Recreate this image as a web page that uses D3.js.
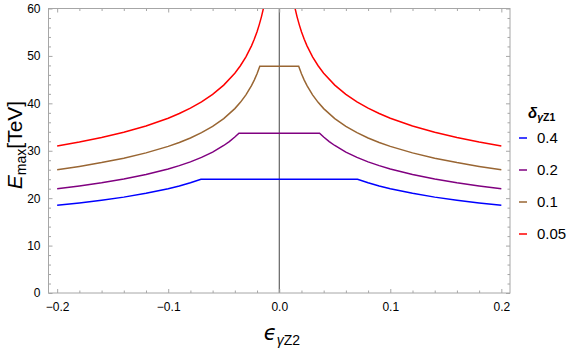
<!DOCTYPE html>
<html><head><meta charset="utf-8">
<script src="https://cdn.jsdelivr.net/npm/d3@7"></script>
<style>
body{margin:0;background:#fff;}
svg{display:block;font-family:"Liberation Sans",Arial,sans-serif;}
</style></head>
<body><svg id="c" width="575" height="348"></svg>
<script>
// ---- data ----
const seriesNames = ["0.4","0.2","0.1","0.05"];
const seriesColors = ["#0000ff","#800080","#996633","#ff0000"];

const epsBlue = [-0.2,-0.18,-0.16,-0.14,-0.12,-0.10,-0.09,-0.08,-0.0705,0.0705,0.08,0.09,0.10,0.12,0.14,0.16,0.18,0.2];
const eBlue   = [18.5,18.99,19.56,20.22,21.02,22.0,22.58,23.26,24.0,24.0,23.26,22.58,22.0,21.02,20.22,19.56,18.99,18.5];

const epsPurple = [-0.2,-0.18,-0.16,-0.14,-0.12,-0.10,-0.09,-0.08,-0.07,-0.06,-0.05,-0.045,-0.04,-0.0363,
                   0.0363,0.04,0.045,0.05,0.06,0.07,0.08,0.09,0.10,0.12,0.14,0.16,0.18,0.2];
const ePurple   = [22.0,22.58,23.26,24.05,24.99,26.16,26.86,27.66,28.60,29.72,31.11,31.94,32.89,33.7,
                   33.7,32.89,31.94,31.11,29.72,28.60,27.66,26.86,26.16,24.99,24.05,23.26,22.58,22.0];

const epsBrown = [-0.2,-0.18,-0.16,-0.14,-0.12,-0.10,-0.09,-0.08,-0.07,-0.06,-0.05,-0.04,-0.035,-0.03,-0.025,-0.0225,-0.02,-0.0175,
                  0.0175,0.02,0.0225,0.025,0.03,0.035,0.04,0.05,0.06,0.07,0.08,0.09,0.10,0.12,0.14,0.16,0.18,0.2];
const eBrown   = [26.0,26.70,27.50,28.43,29.55,30.92,31.75,32.70,33.81,35.14,36.77,38.89,40.21,41.79,43.73,44.90,46.24,47.8,
                  47.8,46.24,44.90,43.73,41.79,40.21,38.89,36.77,35.14,33.81,32.70,31.75,30.92,29.55,28.43,27.50,26.70,26.0];

const epsRed = [-0.2,-0.18,-0.16,-0.14,-0.12,-0.10,-0.09,-0.08,-0.07,-0.06,-0.05,-0.04,-0.035,-0.03,-0.025,-0.0225,-0.02,-0.018,-0.016,-0.014,-0.012,-0.01,-0.00875,
                0.00875,0.01,0.012,0.014,0.016,0.018,0.02,0.0225,0.025,0.03,0.035,0.04,0.05,0.06,0.07,0.08,0.09,0.10,0.12,0.14,0.16,0.18,0.2];
const eRed   = [31.0,31.83,32.78,33.89,35.22,36.86,37.85,38.98,40.30,41.88,43.84,46.35,47.93,49.81,52.13,53.52,55.12,56.60,58.29,60.27,62.63,65.55,67.8,
                67.8,65.55,62.63,60.27,58.29,56.60,55.12,53.52,52.13,49.81,47.93,46.35,43.84,41.88,40.30,38.98,37.85,36.86,35.22,33.89,32.78,31.83,31.0];

const xTicks = [-0.2,-0.1,0.0,0.1,0.2];
const xTickLabels = ["\u22120.2","\u22120.1","0.0","0.1","0.2"];
const xMinor = [-0.18,-0.16,-0.14,-0.12,-0.08,-0.06,-0.04,-0.02,0.02,0.04,0.06,0.08,0.12,0.14,0.16,0.18];
const yTicks = [0,10,20,30,40,50,60];
const yMinor = [2,4,6,8,12,14,16,18,22,24,26,28,32,34,36,38,42,44,46,48,52,54,56,58];

// ---- layout ----
const L = 48.5, R = 510, T = 8.5, B = 293;
const x = d3.scaleLinear().domain([-0.2078, 0.2078]).range([L, R]);
const y = d3.scaleLinear().domain([0, 60]).range([B, T]);

const svg = d3.select("#c");
svg.append("defs").append("clipPath").attr("id","clip")
  .append("rect").attr("x",L).attr("y",T).attr("width",R-L).attr("height",B-T);

const frameColor = "#a6a6a6";
const g = svg.append("g");

// vertical line at eps=0
g.append("line").attr("x1",x(0)).attr("x2",x(0)).attr("y1",T).attr("y2",B)
  .attr("stroke","#444").attr("stroke-width",1);

// series
const series = [[epsBlue,eBlue],[epsPurple,ePurple],[epsBrown,eBrown],[epsRed,eRed]];
const line = d3.line().x(d=>x(d[0])).y(d=>y(d[1]));
series.forEach((s,i)=>{
  const pts = s[0].map((e,j)=>[e,s[1][j]]);
  g.append("path").attr("d",line(pts)).attr("fill","none")
   .attr("stroke",seriesColors[i]).attr("stroke-width",1.5)
   .attr("clip-path","url(#clip)");
});

// frame
g.append("rect").attr("x",L).attr("y",T).attr("width",R-L).attr("height",B-T)
  .attr("fill","none").attr("stroke",frameColor).attr("stroke-width",1);

// axes with inward ticks
const fmt = (d)=> xTickLabels[xTicks.indexOf(d)];
const axB = d3.axisBottom(x).tickValues(xTicks).tickFormat(fmt).tickSizeInner(-4).tickSizeOuter(0).tickPadding(9);
const axT = d3.axisTop(x).tickValues(xTicks).tickFormat("").tickSizeInner(-4).tickSizeOuter(0);
const axL = d3.axisLeft(y).tickValues(yTicks).tickSizeInner(-4).tickSizeOuter(0).tickPadding(8);
const axR = d3.axisRight(y).tickValues(yTicks).tickFormat("").tickSizeInner(-4).tickSizeOuter(0);
const axBm = d3.axisBottom(x).tickValues(xMinor).tickFormat("").tickSizeInner(-2.5).tickSizeOuter(0);
const axTm = d3.axisTop(x).tickValues(xMinor).tickFormat("").tickSizeInner(-2.5).tickSizeOuter(0);
const axLm = d3.axisLeft(y).tickValues(yMinor).tickFormat("").tickSizeInner(-2.5).tickSizeOuter(0);
const axRm = d3.axisRight(y).tickValues(yMinor).tickFormat("").tickSizeInner(-2.5).tickSizeOuter(0);

function place(ax, tr){
  const a = svg.append("g").attr("transform",tr).call(ax);
  a.select(".domain").remove();
  a.selectAll("line").attr("stroke",frameColor);
  a.selectAll("text").attr("fill","#000").style("font-size","12px").style("font-family",'"Liberation Sans",Arial,sans-serif');
  return a;
}
place(axB,`translate(0,${B})`);
place(axT,`translate(0,${T})`);
place(axL,`translate(${L},0)`);
place(axR,`translate(${R},0)`);
place(axBm,`translate(0,${B})`);
place(axTm,`translate(0,${T})`);
place(axLm,`translate(${L},0)`);
place(axRm,`translate(${R},0)`);

// axis titles
const xt = svg.append("text").attr("x",282).attr("y",340).attr("text-anchor","middle").style("font-size","21px");
xt.append("tspan").text("\u03F5").style("font-family",'"DejaVu Sans",sans-serif').style("font-style","italic");
xt.append("tspan").attr("dy",5).style("font-size","14px").html('<tspan font-style="italic">\u03B3</tspan>Z2');

const yt = svg.append("text").attr("transform","translate(22,145) rotate(-90)").attr("text-anchor","middle").style("font-size","21px");
yt.append("tspan").text("E").style("font-style","italic");
yt.append("tspan").attr("dy",4).style("font-size","14px").text("max");
yt.append("tspan").attr("dy",-4).text("[TeV]");

// legend
const lg = svg.append("g");
const lt = lg.append("text").attr("x",528).attr("y",118).style("font-size","15px").style("font-weight","bold");
lt.append("tspan").text("\u03B4").style("font-style","italic");
lt.append("tspan").attr("dy",3).style("font-size","10.5px").html('<tspan font-style="italic">\u03B3</tspan>Z1');
seriesNames.forEach((n,i)=>{
  const yy = 138 + i*32;
  lg.append("line").attr("x1",519).attr("x2",527).attr("y1",yy).attr("y2",yy)
    .attr("stroke",seriesColors[i]).attr("stroke-width",1.5);
  lg.append("text").attr("x",537).attr("y",yy+5).style("font-size","15px").text(n);
});
</script></body></html>
